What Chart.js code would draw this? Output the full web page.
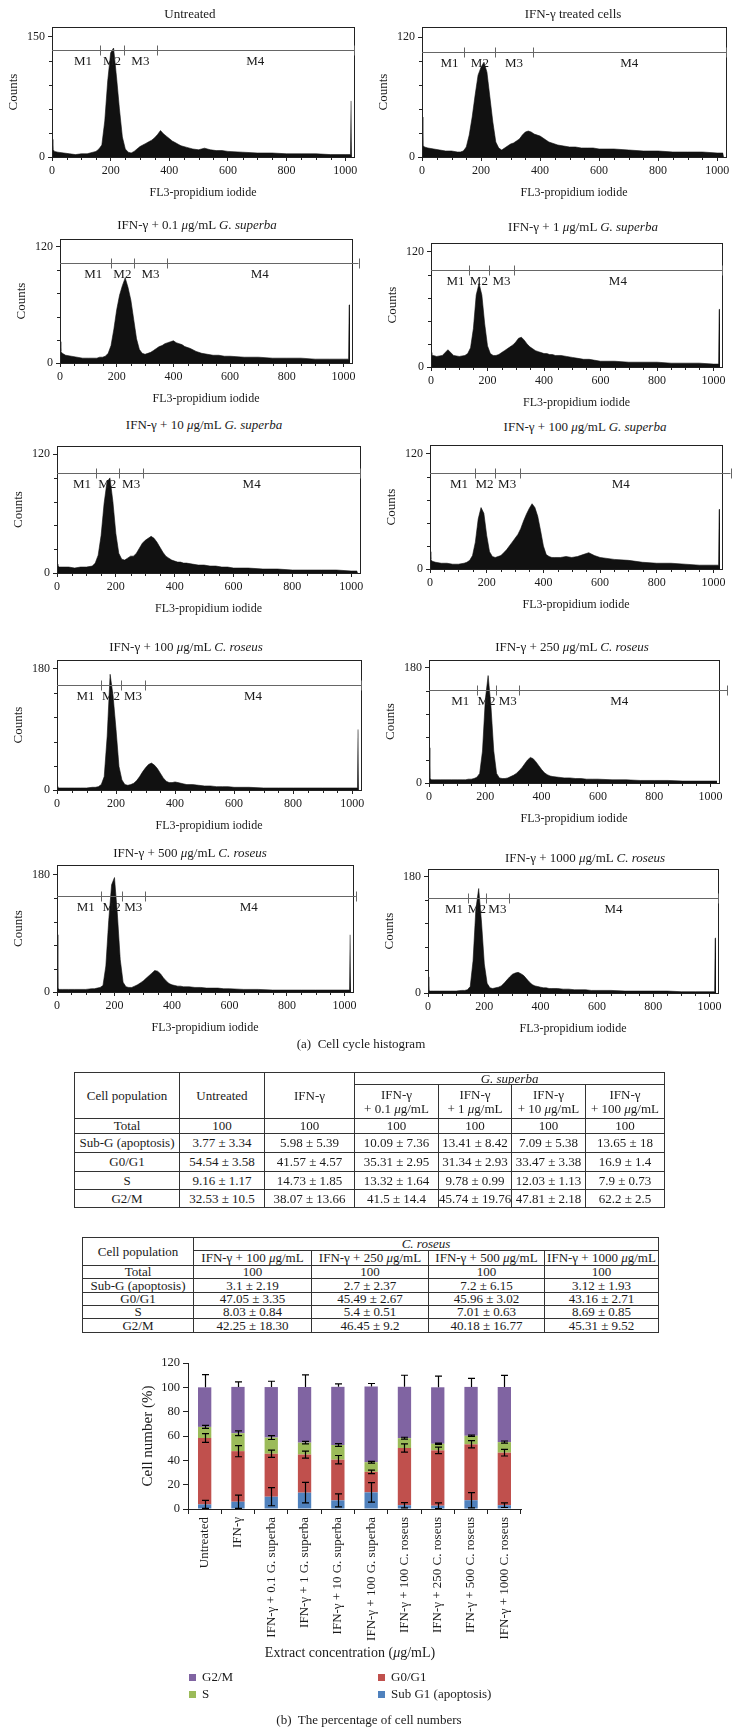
<!DOCTYPE html>
<html>
<head>
<meta charset="utf-8">
<script src="https://cdn.jsdelivr.net/npm/chart.js@4.4.0/dist/chart.umd.min.js"></script>
<style>
body { margin: 0; width: 737px; height: 1735px; position: relative; background: #fff; overflow: hidden;
       font-family: "Liberation Serif", "DejaVu Serif", serif; color: #1a1a1a; }
canvas { position: absolute; }
.lbl { position: absolute; white-space: nowrap; transform: translate(-50%, -50%); font-size: 13px; }
table { position: absolute; border-collapse: collapse; table-layout: fixed; font-size: 13px; }
td { border: 1px solid #333; text-align: center; padding: 0; line-height: 12px; white-space: nowrap; overflow: hidden; }
.sw { position: absolute; width: 7px; height: 7px; }
.lg { position: absolute; font-size: 13px; white-space: nowrap; transform: translateY(-50%); }
</style>
</head>
<body>
<div id="root"></div>
<script>
// ---- histogram data (channel -> counts) ----
const channels = [0, 3, 8, 20, 40, 60, 80, 100, 120,
  130, 140, 150, 160, 170, 180, 190, 200, 210, 220, 230, 240, 250, 260, 270, 280, 290, 300,
  310, 320, 330, 340, 350, 360, 370, 380, 390, 400, 410, 420, 430, 440,
  460, 480, 500, 520, 540, 560, 580, 600,
  650, 700, 750, 800, 850, 900, 950, 1000,
  1018, 1020, 1023];

const hUntreated = [22, 10, 7, 6, 5, 4, 3, 4, 4,
  5, 6, 7, 10, 15, 45, 95, 130, 136, 100, 60, 25, 10, 6, 5, 7, 10, 13,
  15, 17, 19, 21, 24, 28, 33, 29, 26, 23, 20, 18, 16, 14,
  12, 10, 9, 11, 9, 8, 8, 7,
  6, 5, 5, 4, 4, 4, 3, 3,
  3, 70, 70];
const hIfn = [40, 12, 10, 9, 8, 7, 6, 6, 5,
  5, 6, 10, 22, 40, 62, 82, 90, 95, 85, 60, 35, 15, 9, 7, 9, 11, 13,
  14, 16, 18, 22, 25, 26, 25, 23, 22, 21, 19, 17, 15, 14,
  12, 11, 10, 10, 9, 9, 9, 8,
  8, 7, 6, 6, 5, 5, 5, 4,
  4, 4, 4];
const hGs01 = [22, 12, 10, 8, 7, 6, 5, 5, 5,
  5, 6, 6, 7, 10, 18, 35, 55, 70, 80, 88, 78, 65, 45, 25, 14, 10, 9,
  10, 11, 13, 15, 17, 18, 20, 21, 22, 23, 21, 20, 19, 17,
  15, 12, 10, 9, 8, 8, 7, 7,
  6, 6, 5, 5, 5, 4, 4, 4,
  4, 60, 60];
const hGs1 = [15, 12, 12, 11, 12, 18, 12, 11, 12,
  14, 20, 40, 75, 87, 75, 45, 22, 14, 12, 12, 13, 15, 17, 19, 21, 23, 26,
  30, 31, 28, 24, 21, 19, 17, 16, 15, 14, 14, 13, 13, 12,
  12, 11, 10, 9, 8, 8, 7, 6,
  6, 5, 5, 5, 4, 4, 4, 3,
  3, 60, 60];
const hGs10 = [9, 7, 6, 6, 6, 5, 6, 6, 7,
  10, 18, 38, 70, 92, 96, 72, 40, 20, 14, 13, 15, 17, 17, 20, 25, 30, 33,
  35, 37, 35, 31, 26, 21, 17, 15, 13, 12, 11, 11, 10, 10,
  9, 8, 8, 7, 7, 6, 6, 5,
  5, 4, 4, 3, 3, 3, 3, 2,
  2, 2, 2];
const hGs100 = [18, 10, 8, 7, 6, 6, 5, 5, 6,
  7, 9, 14, 28, 52, 64, 58, 35, 18, 13, 12, 13, 14, 17, 20, 24, 28, 32,
  36, 42, 50, 57, 63, 68, 64, 55, 40, 24, 15, 13, 12, 12,
  12, 13, 12, 13, 15, 17, 14, 12,
  10, 9, 7, 6, 6, 5, 4, 4,
  4, 62, 62];
const hCr100 = [5, 3, 3, 3, 3, 3, 3, 3, 4,
  4, 5, 8, 20, 80, 172, 140, 90, 35, 15, 8, 7, 8, 10, 14, 20, 27, 33,
  38, 40, 37, 32, 25, 18, 13, 11, 11, 12, 11, 10, 9, 8,
  8, 7, 6, 6, 5, 5, 5, 4,
  4, 3, 3, 3, 3, 3, 3, 3,
  3, 90, 90];
const hCr250 = [55, 8, 5, 5, 5, 5, 5, 5, 5,
  5, 6, 6, 7, 9, 15, 50, 130, 168, 120, 50, 15, 8, 7, 7, 8, 10, 12,
  15, 19, 24, 30, 36, 40, 38, 33, 27, 21, 16, 13, 11, 10,
  9, 8, 8, 7, 7, 6, 6, 6,
  5, 5, 4, 4, 4, 3, 3, 3,
  3, 3, 3];
const hCr500 = [88, 6, 4, 4, 4, 4, 4, 4, 5,
  5, 6, 7, 10, 40, 110, 165, 176, 120, 50, 15, 8, 7, 7, 9, 11, 14, 17,
  21, 25, 29, 33, 32, 28, 22, 17, 13, 11, 10, 9, 9, 8,
  8, 7, 7, 6, 6, 6, 5, 5,
  4, 4, 3, 3, 3, 3, 3, 3,
  3, 88, 88];
const hCr1000 = [25, 4, 3, 3, 3, 3, 3, 3, 4,
  4, 5, 10, 50, 130, 162, 110, 45, 15, 8, 7, 8, 9, 11, 15, 20, 25, 29,
  31, 32, 30, 27, 22, 17, 13, 11, 10, 9, 8, 8, 7, 7,
  7, 6, 6, 5, 5, 5, 4, 4,
  4, 3, 3, 3, 3, 2, 2, 2,
  2, 85, 85];

const histCounts = [hUntreated, hIfn, hGs01, hGs1, hGs10, hGs100, hCr100, hCr250, hCr500, hCr1000];
const histTitles = ['Untreated', 'IFN-γ treated cells',
  'IFN-γ + 0.1 <i>μ</i>g/mL <i>G. superba</i>', 'IFN-γ + 1 <i>μ</i>g/mL <i>G. superba</i>',
  'IFN-γ + 10 <i>μ</i>g/mL <i>G. superba</i>', 'IFN-γ + 100 <i>μ</i>g/mL <i>G. superba</i>',
  'IFN-γ + 100 <i>μ</i>g/mL <i>C. roseus</i>', 'IFN-γ + 250 <i>μ</i>g/mL <i>C. roseus</i>',
  'IFN-γ + 500 <i>μ</i>g/mL <i>C. roseus</i>', 'IFN-γ + 1000 <i>μ</i>g/mL <i>C. roseus</i>'];
const channelTicks = [0, 200, 400, 600, 800, 1000];
const countTicks = [150, 120, 120, 120, 120, 120, 180, 180, 180, 180];
const countMax = [162, 130, 128, 129, 128, 129, 193, 192, 195, 192];
// M1..M4 gates: level (counts) and boundaries (channels)
const gateLevel = [134, 105, 103, 101.5, 101, 100.5, 156, 146, 148, 148];
const gateBounds = [
  [0, 163, 246, 357, 1030], [0, 143, 249, 375, 1030], [0, 180, 260, 379, 1053], [0, 133, 206, 293, 1030],
  [0, 131, 211, 293, 1030], [0, 157, 228, 316, 1060], [0, 149, 217, 298, 1030], [0, 171, 238, 321, 1060],
  [0, 154, 226, 305, 1040], [0, 142, 205, 288, 1030]];

// ---- table / bar chart data ----
const groups = ['Untreated', 'IFN-γ', 'IFN-γ + 0.1 G. superba', 'IFN-γ + 1 G. superba', 'IFN-γ + 10 G. superba',
  'IFN-γ + 100 G. superba', 'IFN-γ + 100 C. roseus', 'IFN-γ + 250 C. roseus', 'IFN-γ + 500 C. roseus', 'IFN-γ + 1000 C. roseus'];
const gsDoses = ['0.1', '1', '10', '100'];
const crDoses = ['100', '250', '500', '1000'];
const subGMean = [3.77, 5.98, 10.09, 13.41, 7.09, 13.65, 3.1, 2.7, 7.2, 3.12];
const subGSd = ['3.34', '5.39', '7.36', '8.42', '5.38', '18', '2.19', '2.37', '6.15', '1.93'];
const g0g1Mean = [54.54, 41.57, 35.31, 31.34, 33.47, 16.9, 47.05, 45.49, 45.96, 43.16];
const g0g1Sd = ['3.58', '4.57', '2.95', '2.93', '3.38', '1.4', '3.35', '2.67', '3.02', '2.71'];
const sMean = [9.16, 14.73, 13.32, 9.78, 12.03, 7.9, 8.03, 5.4, 7.01, 8.69];
const sSd = ['1.17', '1.85', '1.64', '0.99', '1.13', '0.73', '0.84', '0.51', '0.63', '0.85'];
const g2mMean = [32.53, 38.07, 41.5, 45.74, 47.81, 62.2, 42.25, 46.45, 40.18, 45.31];
const g2mSd = ['10.5', '13.66', '14.4', '19.76', '2.18', '2.5', '18.30', '9.2', '16.77', '9.52'];
// error bar half-lengths as drawn in the bar chart
const subGErr = [3.3, 5.4, 7.4, 8.4, 5.4, 8, 2.2, 2.4, 6.2, 1.9];
const g0g1Err = [3.6, 4.6, 3.0, 2.9, 3.4, 1.4, 3.4, 2.7, 3.0, 2.7];
const sErr = [1.2, 1.9, 1.6, 1.0, 1.1, 0.7, 0.8, 0.5, 0.6, 0.9];
const g2mErr = [10.5, 4.2, 4.8, 10, 2.5, 2.5, 9.5, 9.2, 7, 9.5];

// ---- layout (px) ----
const histBox = [ // left, top, right, bottom of plot frame
  [52, 25, 354, 157], [422, 25, 726, 157], [60, 237, 352, 363], [431, 241, 722, 367], [57, 444, 360, 573],
  [430, 443, 722, 569], [57, 658, 361, 790], [429, 658, 719, 783], [57, 863, 353, 992], [428, 867, 718, 993]];
const titlePos = [[190, 14], [573, 14], [197, 225], [583, 227], [204, 425], [585, 427], [186, 647], [572, 647], [190, 853], [585, 858]];

const root = document.getElementById('root');
const serif = '"Liberation Serif", serif';
const ink = '#1a1a1a';

function addText(html, x, y, size) {
  const d = document.createElement('div');
  d.className = 'lbl';
  d.innerHTML = html;
  d.style.left = x + 'px';
  d.style.top = y + 'px';
  if (size) d.style.fontSize = size + 'px';
  root.appendChild(d);
  return d;
}

function addCanvas(left, top, w, h) {
  const c = document.createElement('canvas');
  c.width = w; c.height = h;
  c.style.left = left + 'px'; c.style.top = top + 'px';
  c.style.width = w + 'px'; c.style.height = h + 'px';
  root.appendChild(c);
  return c;
}

const histDecor = {
  id: 'histDecor',
  afterDraw(chart, args, opts) {
    const { ctx, chartArea: a, scales: { x, y } } = chart;
    ctx.save();
    ctx.strokeStyle = '#222';
    ctx.lineWidth = 1;
    ctx.strokeRect(Math.round(a.left) + 0.5, Math.round(a.top) + 0.5, Math.round(a.right - a.left), Math.round(a.bottom - a.top));
    ctx.beginPath();
    for (let v = 50; v < x.max; v += 50) {
      if (v % 200 === 0) continue;
      const px = Math.round(x.getPixelForValue(v)) + 0.5;
      ctx.moveTo(px, a.bottom); ctx.lineTo(px, a.bottom + 3);
    }
    const step = opts.tick / 5;
    for (let v = step; v < opts.tick; v += step) {
      const py = Math.round(y.getPixelForValue(v)) + 0.5;
      ctx.moveTo(a.left, py); ctx.lineTo(a.left - 3, py);
    }
    ctx.stroke();

    // gate markers
    const b = opts.bounds;
    const py = Math.round(y.getPixelForValue(opts.level)) + 0.5;
    ctx.strokeStyle = '#666';
    ctx.beginPath();
    ctx.moveTo(x.getPixelForValue(b[0]), py);
    ctx.lineTo(x.getPixelForValue(b[4]), py);
    for (let i = 1; i < 5; i++) {
      const px = Math.round(x.getPixelForValue(b[i])) + 0.5;
      ctx.moveTo(px, py - 5); ctx.lineTo(px, py + 5);
    }
    ctx.stroke();
    ctx.fillStyle = ink;
    ctx.font = '13px ' + serif;
    ctx.textAlign = 'center';
    ctx.textBaseline = 'middle';
    for (let i = 0; i < 4; i++) {
      const end = Math.min(b[i + 1], x.max);
      const frac = i === 0 ? 0.65 : 0.5;
      ctx.fillText('M' + (i + 1), x.getPixelForValue(b[i] + (end - b[i]) * frac), py + 11);
    }
    ctx.restore();
  }
};

histCounts.forEach((counts, k) => {
  const [L, T, R, B] = histBox[k];
  const canvas = addCanvas(L - 50, T - 8, R - L + 64, B - T + 53);
  addText(histTitles[k], titlePos[k][0], titlePos[k][1], 13);
  const tickFont = { family: serif, size: 12 };
  new Chart(canvas, {
    type: 'line',
    data: {
      datasets: [{
        data: channels.map((c, i) => ({ x: c, y: counts[i] })),
        fill: 'origin',
        backgroundColor: '#111',
        borderColor: '#111',
        borderWidth: 0.6,
        pointRadius: 0,
        tension: 0
      }]
    },
    options: {
      animation: false,
      responsive: false,
      events: [],
      layout: { padding: { top: 8, right: 14, left: 0, bottom: 0 } },
      plugins: {
        legend: { display: false },
        tooltip: { enabled: false },
        histDecor: { tick: countTicks[k], level: gateLevel[k], bounds: gateBounds[k] }
      },
      scales: {
        x: {
          type: 'linear', min: 0, max: 1030,
          afterBuildTicks(s) { s.ticks = channelTicks.map(v => ({ value: v })); },
          afterFit(s) { s.height = 45; },
          grid: { drawOnChartArea: false, tickLength: 4, color: '#222' },
          border: { color: '#222' },
          ticks: { font: tickFont, color: ink, padding: 3, maxRotation: 0, callback: v => String(v) },
          title: { display: true, text: 'FL3-propidium iodide', font: { family: serif, size: 12 }, color: ink, padding: { top: 0, bottom: 2 } }
        },
        y: {
          min: 0, max: countMax[k],
          afterBuildTicks(s) { s.ticks = [{ value: 0 }, { value: countTicks[k] }]; },
          afterFit(s) { s.width = 50; },
          grid: { drawOnChartArea: false, tickLength: 4, color: '#222' },
          border: { color: '#222' },
          ticks: { font: tickFont, color: ink, padding: 3, callback: v => String(v) },
          title: { display: true, text: 'Counts', font: { family: serif, size: 13 }, color: ink }
        }
      }
    },
    plugins: [histDecor]
  });
});

addText('(a)&nbsp; Cell cycle histogram', 361, 1044, 13);

// ---- tables ----
const fmt = (m, s) => m + ' ± ' + s;
function phaseRows(idx, heights) {
  const rows = [['Total', idx.map(() => '100')],
    ['Sub-G (apoptosis)', idx.map(i => fmt(subGMean[i], subGSd[i]))],
    ['G0/G1', idx.map(i => fmt(g0g1Mean[i], g0g1Sd[i]))],
    ['S', idx.map(i => fmt(sMean[i], sSd[i]))],
    ['G2/M', idx.map(i => fmt(g2mMean[i], g2mSd[i]))]];
  return rows.map((r, j) => `<tr style="height:${heights[j]}px"><td>${r[0]}</td>${r[1].map(v => `<td>${v}</td>`).join('')}</tr>`).join('');
}

const t1 = document.createElement('table');
t1.style.left = '74px'; t1.style.top = '1072px'; t1.style.width = '590px';
t1.innerHTML = '<colgroup>' + [105, 85, 90, 84, 73, 74, 79].map(w => `<col style="width:${w}px">`).join('') + '</colgroup>' +
  '<tr style="height:12px"><td rowspan="2">Cell population</td><td rowspan="2">Untreated</td><td rowspan="2">IFN-γ</td>' +
  '<td colspan="4" style="line-height:11px"><i>G. superba</i></td></tr>' +
  '<tr style="height:34px">' + gsDoses.map(d => `<td style="line-height:14px">IFN-γ<br>+ ${d} <i>μ</i>g/mL</td>`).join('') + '</tr>' +
  phaseRows([0, 1, 2, 3, 4, 5], [15, 19, 19, 18, 18]);
root.appendChild(t1);

const t2 = document.createElement('table');
t2.style.left = '82px'; t2.style.top = '1237px'; t2.style.width = '576px';
t2.innerHTML = '<colgroup>' + [111, 118, 117, 116, 114].map(w => `<col style="width:${w}px">`).join('') + '</colgroup>' +
  '<tr style="height:13px"><td rowspan="2">Cell population</td><td colspan="4"><i>C. roseus</i></td></tr>' +
  '<tr style="height:15px">' + crDoses.map(d => `<td>IFN-γ + ${d} <i>μ</i>g/mL</td>`).join('') + '</tr>' +
  phaseRows([6, 7, 8, 9], [13, 14, 13, 12, 14]);
root.appendChild(t2);

// ---- stacked bar chart ----
const phaseSeries = [
  { label: 'Sub G1 (apoptosis)', data: subGMean, err: subGErr, color: '#4F81BD', both: true },
  { label: 'G0/G1', data: g0g1Mean, err: g0g1Err, color: '#C0504D', both: true },
  { label: 'S', data: sMean, err: sErr, color: '#9BBB59', both: true },
  { label: 'G2/M', data: g2mMean, err: g2mErr, color: '#8064A2', both: false }
];

const errorBars = {
  id: 'errorBars',
  afterDatasetsDraw(chart) {
    const { ctx, scales: { x, y } } = chart;
    const cum = groups.map(() => 0);
    ctx.save();
    ctx.strokeStyle = '#000';
    ctx.lineWidth = 1.2;
    phaseSeries.forEach(ser => {
      ser.data.forEach((v, i) => {
        cum[i] += v;
        const cx = Math.round(x.getPixelForValue(i)) + 0.5;
        const hi = y.getPixelForValue(cum[i] + ser.err[i]);
        const lo = y.getPixelForValue(ser.both ? cum[i] - ser.err[i] : cum[i]);
        ctx.beginPath();
        ctx.moveTo(cx, hi); ctx.lineTo(cx, lo);
        ctx.moveTo(cx - 3.5, hi); ctx.lineTo(cx + 3.5, hi);
        if (ser.both) { ctx.moveTo(cx - 3.5, lo); ctx.lineTo(cx + 3.5, lo); }
        ctx.stroke();
      });
    });
    ctx.restore();
  }
};

const barCanvas = addCanvas(135, 1350, 398, 299);
new Chart(barCanvas, {
  type: 'bar',
  data: {
    labels: groups,
    datasets: phaseSeries.map(s => ({
      label: s.label, data: s.data, backgroundColor: s.color, borderWidth: 0,
      barPercentage: 0.4, categoryPercentage: 1
    }))
  },
  options: {
    animation: false,
    responsive: false,
    events: [],
    layout: { padding: { top: 13, right: 12, left: 0, bottom: 0 } },
    plugins: { legend: { display: false }, tooltip: { enabled: false } },
    scales: {
      x: {
        stacked: true,
        afterFit(s) { s.height = 140; },
        grid: { drawOnChartArea: false, tickLength: 5, color: '#222', offset: true },
        border: { color: '#222' },
        ticks: { font: { family: serif, size: 13 }, color: ink, minRotation: 90, maxRotation: 90, padding: 3, autoSkip: false }
      },
      y: {
        stacked: true, min: 0, max: 120,
        ticks: { stepSize: 20, font: { family: serif, size: 12.5 }, color: ink, padding: 3 },
        afterFit(s) { s.width = 53; },
        grid: { drawOnChartArea: false, tickLength: 5, color: '#222' },
        border: { color: '#222' },
        title: { display: true, text: 'Cell number (%)', font: { family: serif, size: 15 }, color: ink }
      }
    }
  },
  plugins: [errorBars]
});

addText('Extract concentration (<i>μ</i>g/mL)', 350, 1653, 14);

const legendPos = { 'G2/M': [189, 1677], 'S': [189, 1694], 'G0/G1': [378, 1677], 'Sub G1 (apoptosis)': [378, 1694] };
phaseSeries.forEach(s => {
  const [lx, ly] = legendPos[s.label];
  const sw = document.createElement('div');
  sw.className = 'sw';
  sw.style.background = s.color;
  sw.style.left = lx + 'px'; sw.style.top = (ly - 3.5) + 'px';
  root.appendChild(sw);
  const t = document.createElement('div');
  t.className = 'lg';
  t.textContent = s.label;
  t.style.left = (lx + 13) + 'px'; t.style.top = ly + 'px';
  root.appendChild(t);
});

addText('(b)&nbsp; The percentage of cell numbers', 369, 1720, 13);
</script>
</body>
</html>
